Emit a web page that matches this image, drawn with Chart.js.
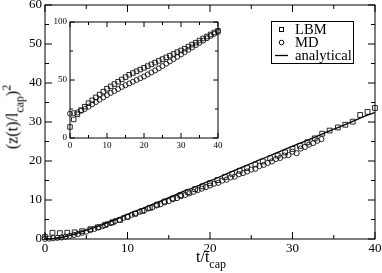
<!DOCTYPE html>
<html>
<head>
<meta charset="utf-8">
<script src="https://cdn.jsdelivr.net/npm/chart.js@4.4.1/dist/chart.umd.min.js"></script>
<style>
  html, body { margin: 0; padding: 0; background: #fff; }
  #wrap { position: relative; width: 382px; height: 273px; overflow: hidden; }
  #wrap canvas { position: absolute; left: 0; top: 0; }
  .ttl { position: absolute; font-family: "Liberation Serif", serif; font-size: 16px; line-height: 16px; color: #000; white-space: nowrap; }
  .lo { font-size: 12px; position: relative; top: 6px; }
  .hi { font-size: 12px; position: relative; top: -7px; }
</style>
</head>
<body>
<div id="wrap">
  <canvas id="main" width="382" height="273"></canvas>
  <canvas id="inset" width="382" height="273"></canvas>
  <div class="ttl" style="left:196px;top:249px;">t/t<span class="lo">cap</span></div>
  <div class="ttl" style="left:12.5px;top:117px;transform:translate(-50%,-50%) rotate(-90deg);">(z(t)/l<span class="lo">cap</span>)<span class="hi">2</span></div>
</div>
<script>
// ── Data ────────────────────────────────────────────────────────────────────

// main panel: analytical curve
const anaT = [0, 1, 2, 3, 4, 5, 6, 7, 8, 9, 10, 12, 14, 16, 18, 20, 22, 24, 26, 28, 30, 32, 34, 36, 38, 40];
const anaZ = [0, 0.12, 0.45, 0.95, 1.55, 2.2, 2.95, 3.7, 4.5, 5.4, 6.3, 8.0, 9.7, 11.5, 13.2, 14.9, 16.7, 18.5, 20.3, 22.0, 23.8, 25.5, 27.3, 29.0, 30.8, 32.5];

// main panel: LBM squares
const lbmT = [0, 0.9, 1.8, 2.7, 3.6, 4.5, 5.5, 6.4, 7.3, 8.2, 9.1, 10, 10.9, 11.8, 12.7, 13.6, 14.5, 15.5, 16.4, 17.3, 18.2, 19.1,
              20, 20.9, 21.8, 22.7, 23.6, 24.5, 25.5, 26.4, 27.3, 28.2, 29.1, 30, 30.9, 31.8, 32.7, 33.6, 34.5, 35.5, 36.4, 37.3, 38.2, 39.1, 40];
const lbmZ = [0.5, 1.6, 1.5, 1.6, 1.7, 2.0, 2.5, 3.0, 3.6, 4.3, 4.9, 5.7, 6.5, 7.2, 8.0, 8.8, 9.6, 10.4, 11.2, 12.0, 12.8, 13.5,
              14.3, 15.1, 15.9, 16.7, 17.5, 18.2, 19.1, 19.9, 20.7, 21.4, 22.2, 23.1, 23.9, 24.8, 25.8, 27.0, 27.8, 28.6, 29.3, 30.1, 31.8, 32.6, 33.6];

// main panel: MD circles (t = 0, 0.5, 1, ... 33.5)
const mdT = [0, 0.5, 1, 1.5, 2, 2.5, 3, 3.5, 4, 4.5, 5, 5.5, 6, 6.5, 7, 7.5, 8, 8.5, 9, 9.5, 10, 10.5, 11, 11.5, 12, 12.5, 13, 13.5,
             14, 14.5, 15, 15.5, 16, 16.5, 17, 17.5, 18, 18.5, 19, 19.5, 20, 20.5, 21, 21.5, 22, 22.5, 23, 23.5, 24, 24.5, 25, 25.5,
             26, 26.5, 27, 27.5, 28, 28.5, 29, 29.5, 30, 30.5, 31, 31.5, 32, 32.5, 33, 33.5];
const mdZ = [0.05, 0.1, 0.2, 0.3, 0.4, 0.6, 0.8, 1.05, 1.3, 1.6, 1.9, 2.3, 2.6, 3.0, 3.3, 3.8, 4.1, 4.6, 4.9, 5.4, 5.7, 6.2, 6.5, 7.0, 7.3, 7.8, 8.1, 8.6,
             8.9, 9.4, 9.7, 10.2, 10.5, 11.0, 11.3, 11.7, 12.1, 12.5, 12.9, 13.3, 13.7, 14.2, 14.4, 15.0, 15.2, 15.8, 16.0, 16.6, 16.9, 17.3, 17.8, 18.0,
             18.7, 19.0, 19.5, 19.9, 20.5, 20.8, 21.4, 21.5, 22.4, 22.0, 23.2, 23.6, 24.2, 24.6, 25.2, 25.6];

// inset: both series at t = 0..40
const insT     = [0, 1, 2, 3, 4, 5, 6, 7, 8, 9, 10, 11, 12, 13, 14, 15, 16, 17, 18, 19, 20, 21, 22, 23, 24, 25, 26, 27, 28, 29, 30, 31, 32, 33, 34, 35, 36, 37, 38, 39, 40];
const insLbmZ  = [9.5, 16, 20.5, 24, 27, 30, 32.5, 35, 37.5, 40, 42.5, 44.5, 46.5, 48.5, 50.5, 52.5, 54.5, 56, 57.5, 59, 60.5, 62, 63.5, 65, 66.5, 68,
                  69.5, 71, 72.5, 74, 75.5, 77, 78.8, 80.5, 82.2, 84, 85.8, 87.5, 89.2, 91, 92.5];
const insMdZ   = [21, 21.5, 22, 23.5, 25, 27, 29, 31, 33, 35, 37, 38.8, 40.5, 42.2, 44, 45.5, 47, 48.5, 50, 51.5, 53, 54.8, 56.5, 58.2, 60, 62,
                  64, 66, 68, 70, 72, 74, 76, 78, 80, 82, 84, 86, 88, 89.8, 91.5];

const legendLabels = ['LBM', 'MD', 'analytical'];

// ── Helpers ─────────────────────────────────────────────────────────────────

const SERIF = '"Liberation Serif", "DejaVu Serif", serif';
const pts = (xs, ys) => xs.map((x, i) => ({ x, y: ys[i] }));

// box frame with inward ticks on all four sides
const framePlugin = {
  id: 'frame',
  afterDatasetsDraw(chart, args, opts) {
    const { ctx, chartArea: a } = chart;
    const xs = chart.scales.x, ys = chart.scales.y;
    ctx.save();
    ctx.strokeStyle = '#000';
    ctx.lineWidth = 1;
    ctx.strokeRect(a.left, a.top, a.right - a.left, a.bottom - a.top);
    ctx.beginPath();
    for (let v = xs.min; v <= xs.max + 1e-9; v += opts.minorX) {
      const len = Math.abs(v / opts.majorX - Math.round(v / opts.majorX)) < 1e-6 ? opts.big : opts.small;
      const p = xs.getPixelForValue(v);
      ctx.moveTo(p, a.bottom); ctx.lineTo(p, a.bottom - len);
      ctx.moveTo(p, a.top);    ctx.lineTo(p, a.top + len);
    }
    for (let v = ys.min; v <= ys.max + 1e-9; v += opts.minorY) {
      const len = Math.abs(v / opts.majorY - Math.round(v / opts.majorY)) < 1e-6 ? opts.big : opts.small;
      const p = ys.getPixelForValue(v);
      ctx.moveTo(a.left, p);  ctx.lineTo(a.left + len, p);
      ctx.moveTo(a.right, p); ctx.lineTo(a.right - len, p);
    }
    ctx.stroke();
    ctx.restore();
  }
};

// boxed legend in the upper right of the main panel
const boxLegend = {
  id: 'boxLegend',
  afterDraw(chart, args, opts) {
    if (!opts.show) return;
    const { ctx } = chart;
    ctx.save();
    ctx.fillStyle = '#fff';
    ctx.fillRect(271.5, 21.5, 82, 42);
    ctx.strokeStyle = '#000';
    ctx.lineWidth = 1;
    ctx.strokeRect(271.5, 21.5, 82, 42);
    const rows = [29.5, 42.5, 55.5];
    // square
    ctx.strokeRect(279.5, rows[0] - 2, 4, 4);
    // circle
    ctx.beginPath(); ctx.arc(281.5, rows[1], 2.3, 0, Math.PI * 2); ctx.stroke();
    // line
    ctx.beginPath(); ctx.lineWidth = 1.3; ctx.moveTo(275, rows[2]); ctx.lineTo(288, rows[2]); ctx.stroke();
    ctx.fillStyle = '#000';
    ctx.font = '14.6px ' + SERIF;
    ctx.textBaseline = 'alphabetic';
    legendLabels.forEach((t, i) => ctx.fillText(t, 295, rows[i] + 4.8));
    ctx.restore();
  }
};

function scaleOpts(min, max, step, fontSize, pad, fixed, horizontal) {
  return {
    type: 'linear', min, max,
    ticks: { stepSize: step, color: '#000', padding: pad, maxRotation: 0, font: { family: SERIF, size: fontSize } },
    grid: { display: false, drawTicks: false },
    border: { display: false },
    afterFit: s => {
      if (horizontal) { s.height = fixed; s.paddingLeft = 0; s.paddingRight = 0; }
      else { s.width = fixed; s.paddingTop = 0; s.paddingBottom = 0; }
    }
  };
}

const markerSet = (label, data, style, r) => ({
  label, data,
  pointStyle: style, pointRadius: r, pointBorderWidth: 0.9,
  pointBorderColor: '#111', pointBackgroundColor: 'rgba(0,0,0,0)',
  showLine: false, clip: false
});

// ── Main panel ──────────────────────────────────────────────────────────────

new Chart(document.getElementById('main'), {
  type: 'scatter',
  data: {
    datasets: [
      markerSet('LBM', pts(lbmT, lbmZ), 'rect', 3.4),
      markerSet('MD', pts(mdT, mdZ), 'circle', 2.6),
      {
        label: 'analytical', data: pts(anaT, anaZ), showLine: true,
        borderColor: '#000', borderWidth: 1.3, pointRadius: 0, cubicInterpolationMode: 'monotone'
      }
    ]
  },
  options: {
    responsive: false, animation: false, devicePixelRatio: 1,
    layout: { padding: { top: 5, right: 7, left: 0, bottom: 0 } },
    plugins: {
      legend: { display: false }, tooltip: { enabled: false },
      frame: { majorX: 10, minorX: 5, majorY: 10, minorY: 5, big: 7, small: 4 },
      boxLegend: { show: true }
    },
    scales: {
      x: scaleOpts(0, 40, 10, 13, 2, 34, true),
      y: scaleOpts(0, 60, 10, 13, 3, 45, false)
    }
  },
  plugins: [framePlugin, boxLegend]
});

// ── Inset ───────────────────────────────────────────────────────────────────

new Chart(document.getElementById('inset'), {
  type: 'scatter',
  data: {
    datasets: [
      markerSet('LBM', pts(insT, insLbmZ), 'rect', 3.2),
      markerSet('MD', pts(insT, insMdZ), 'circle', 2.5)
    ]
  },
  options: {
    responsive: false, animation: false, devicePixelRatio: 1,
    layout: { padding: { top: 22, right: 164, left: 0, bottom: 0 } },
    plugins: {
      legend: { display: false }, tooltip: { enabled: false },
      frame: { majorX: 10, minorX: 5, majorY: 50, minorY: 25, big: 5, small: 3 },
      boxLegend: { show: false }
    },
    scales: {
      x: scaleOpts(0, 40, 10, 9, 2, 135, true),
      y: scaleOpts(0, 100, 50, 9, 3, 70, false)
    }
  },
  plugins: [framePlugin, boxLegend]
});
</script>
</body>
</html>
